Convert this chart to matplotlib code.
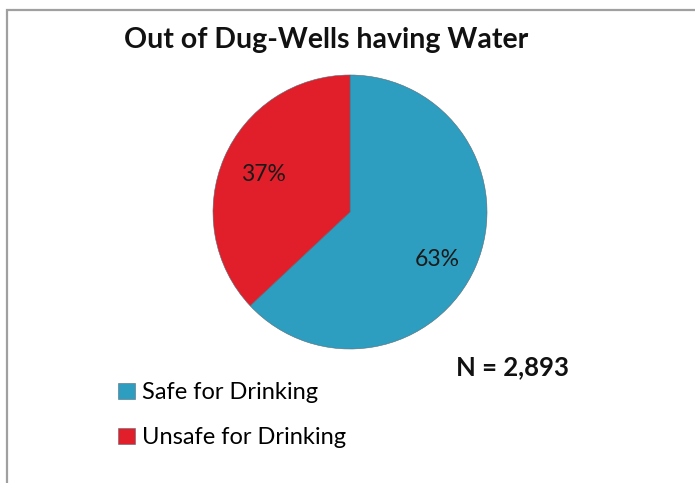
import matplotlib.pyplot as plt
from matplotlib.patches import Rectangle

# Share of dug-wells with water, by drinking safety
categories = ['Safe for Drinking', 'Unsafe for Drinking']
shares = [63, 37]
colors = ['#2D9EC0', '#E11F2B']
title = 'Out of Dug-Wells having Water'
n_label = 'N = 2,893'

W, H = 695, 483
fig = plt.figure(figsize=(W / 100, H / 100), dpi=100)
plt.rcParams['font.family'] = ['Lato', 'DejaVu Sans']

# Thin grey chart frame (left and top edges visible)
fig.patches.append(Rectangle((7 / W, -0.1), 1.2, (H - 10) / H + 0.1,
                             transform=fig.transFigure, fill=False,
                             edgecolor='#a0a0a0', linewidth=1.6))

# Pie axes: centre (350, 212) px, radius ~137 px
cx, cy, r = 350, 212, 137
ax = fig.add_axes([(cx - r) / W, (H - cy - r) / H, 2 * r / W, 2 * r / H])
wedges, texts, autotexts = ax.pie(
    shares, colors=colors, startangle=90, counterclock=False,
    autopct='%d%%', pctdistance=0.69,
    wedgeprops=dict(edgecolor='#5a6a75', linewidth=0.4),
    textprops=dict(fontsize=16.5, color='#1a1a1a'))
# the larger slice's label sits a little lower
x0, y0 = autotexts[0].get_position()
autotexts[0].set_position((x0, y0 - 0.07))
ax.set_xlim(-1, 1)
ax.set_ylim(-1, 1)
ax.set_aspect('equal')
ax.axis('off')

fig.text(326 / W, 1 - 40 / H, title, ha='center', va='center',
         fontsize=20.5, fontweight='bold', color='#111111')
fig.text(513 / W, 1 - 367 / H, n_label, ha='center', va='center',
         fontsize=18.5, fontweight='bold', color='#111111')

fig.legend(wedges, categories, loc='upper left',
           bbox_to_anchor=(109 / W, 1 - 373 / H), frameon=False,
           fontsize=17, handlelength=0.7, handleheight=0.7,
           handletextpad=0.3, labelspacing=1.0, borderaxespad=0)

fig.savefig('out.png', dpi=100)
